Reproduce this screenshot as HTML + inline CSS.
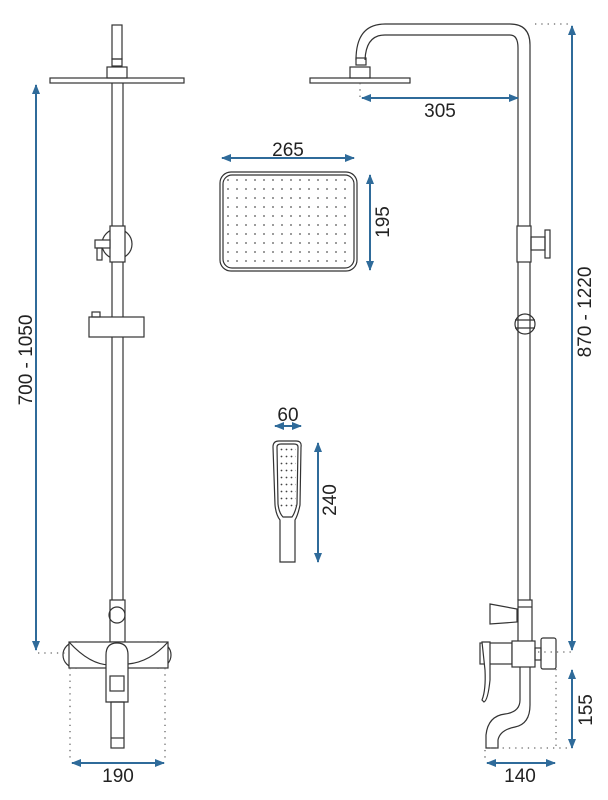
<!DOCTYPE html>
<html><head><style>
html,body{margin:0;padding:0;background:#fff;}
svg{display:block;}
text{font-family:"Liberation Sans",sans-serif;font-size:19px;fill:#222;}
</style></head><body>
<svg width="608" height="800" viewBox="0 0 608 800" xmlns="http://www.w3.org/2000/svg">
<defs>
<marker id="a" markerWidth="10" markerHeight="8" refX="9" refY="4" orient="auto-start-reverse" markerUnits="userSpaceOnUse">
<path d="M0,0 L10,4 L0,8 Z" fill="#2f6b9a"/></marker>
<pattern id="dots" x="226" y="178" width="9" height="9" patternUnits="userSpaceOnUse">
<circle cx="2" cy="2" r="0.9" fill="#555"/></pattern>
<pattern id="dots2" x="280" y="448" width="5" height="7" patternUnits="userSpaceOnUse">
<circle cx="1.5" cy="1.5" r="0.9" fill="#444"/></pattern>
</defs>
<g fill="none" stroke="#333" stroke-width="1.2">
<!-- LEFT UNIT -->
<rect x="112" y="25" width="10" height="34"/>
<rect x="112" y="59" width="10" height="7"/>
<rect x="107" y="67" width="20" height="11"/>
<rect x="50" y="78" width="134" height="5"/>
<line x1="112" y1="83" x2="112" y2="600"/><line x1="123" y1="83" x2="123" y2="600"/>
<circle cx="117" cy="244" r="15"/>
<rect x="110" y="226" width="15" height="36" fill="#fff"/>
<rect x="95" y="240" width="15" height="8" fill="#fff"/>
<rect x="97" y="248" width="5" height="12"/>
<rect x="89" y="317" width="55" height="20" fill="#fff"/>
<rect x="92" y="312" width="8" height="5"/>
<rect x="110" y="600" width="15" height="42" fill="#fff"/>
<circle cx="117" cy="615" r="8"/>
<circle cx="76" cy="655" r="13"/><circle cx="158" cy="655" r="13"/>
<rect x="69" y="642" width="99" height="26" fill="#fff"/>
<path d="M69,642 Q90,665 110,665 M168,642 Q150,662 128,664"/>
<path d="M106,702 V655 Q106,643 117,643 Q128,643 128,655 V702 Z" fill="#fff"/>
<rect x="110" y="676" width="14" height="15"/>
<rect x="111" y="702" width="13" height="46"/>
<line x1="111" y1="738" x2="124" y2="738"/>
<!-- RIGHT UNIT -->
<path d="M356,60 Q356,24 385,24 H510 Q530,24 530,45 V600"/>
<path d="M365,60 Q366,35 385,35 H510 Q518,35 518,48 V600"/>
<rect x="356" y="58" width="10" height="7"/>
<rect x="350" y="67" width="20" height="11"/>
<rect x="310" y="78" width="100" height="5"/>
<rect x="517" y="226" width="14" height="36" fill="#fff"/>
<rect x="531" y="237" width="14" height="13"/>
<rect x="545" y="230" width="5" height="28"/>
<circle cx="525" cy="324" r="10"/>
<line x1="515" y1="320" x2="535" y2="320"/><line x1="515" y1="328" x2="535" y2="328"/>
<rect x="518" y="600" width="14" height="42" fill="#fff"/>
<line x1="518" y1="607" x2="532" y2="607"/>
<path d="M490,604 L517,609 V622 L490,624 Z"/>
<path d="M520,667 V700 Q520,712 505,714 Q488,716 486,735 V748 H498 V740 Q500,730 515,727 Q530,724 530,705 V667"/>
<rect x="480" y="643" width="32" height="21" fill="#fff"/>
<rect x="512" y="641" width="23" height="26" fill="#fff"/>
<rect x="535" y="648" width="6" height="12"/>
<rect x="541" y="638" width="15" height="31" rx="2"/>
<path d="M482,642 H490 V680 Q488,700 484,702 L482,700 Q486,690 485,670 Z" fill="#fff"/>
<!-- HEAD PLATE TOP -->
<rect x="220" y="172" width="137" height="99" rx="11"/>
<rect x="223" y="175" width="131" height="93" rx="9"/>
<rect x="226" y="178" width="125" height="87" fill="url(#dots)" stroke="none"/>
<!-- HAND SHOWER -->
<path d="M273,447 Q273,441 279,441 H296 Q302,441 301,447 L300,505 Q298,515 295,520 V562 H280 V520 Q276,515 275,505 Z"/>
<path d="M277,447 Q277,444 281,444 H294 Q298,444 298,447 L297,504 Q295,513 292,517 H283 Q279,513 278,504 Z"/>
<rect x="280" y="448" width="16" height="62" fill="url(#dots2)" stroke="none"/>
</g>
<!-- dotted guides -->
<g stroke="#666" stroke-width="1.3" stroke-dasharray="1.3 5" fill="none">
<line x1="38" y1="653" x2="66" y2="653"/>
<line x1="70" y1="668" x2="70" y2="760"/><line x1="165" y1="668" x2="165" y2="760"/>
<line x1="535" y1="24" x2="572" y2="24"/>
<line x1="360" y1="83" x2="360" y2="98"/>
<line x1="556" y1="669" x2="556" y2="748"/>
<line x1="490" y1="748" x2="570" y2="748"/>
<line x1="485" y1="750" x2="485" y2="762"/>
<line x1="538" y1="652" x2="572" y2="652"/>
</g>
<!-- dimensions -->
<g stroke="#2f6b9a" stroke-width="2" fill="none">
<line x1="36" y1="85" x2="36" y2="650" marker-start="url(#a)" marker-end="url(#a)"/>
<line x1="72" y1="763" x2="164" y2="763" marker-start="url(#a)" marker-end="url(#a)"/>
<line x1="362" y1="98" x2="518" y2="98" marker-start="url(#a)" marker-end="url(#a)"/>
<line x1="572" y1="26" x2="572" y2="650" marker-start="url(#a)" marker-end="url(#a)"/>
<line x1="222" y1="158" x2="354" y2="158" marker-start="url(#a)" marker-end="url(#a)"/>
<line x1="370" y1="175" x2="370" y2="270" marker-start="url(#a)" marker-end="url(#a)"/>
<line x1="275" y1="426" x2="301" y2="426" marker-start="url(#a)" marker-end="url(#a)"/>
<line x1="318" y1="443" x2="318" y2="562" marker-start="url(#a)" marker-end="url(#a)"/>
<line x1="572" y1="670" x2="572" y2="748" marker-start="url(#a)" marker-end="url(#a)"/>
<line x1="487" y1="763" x2="555" y2="763" marker-start="url(#a)" marker-end="url(#a)"/>
</g>
<g text-anchor="middle">
<text x="118" y="782">190</text>
<text x="520" y="782">140</text>
<text x="440" y="117">305</text>
<text x="288" y="156">265</text>
<text x="288" y="421">60</text>
<text transform="translate(389,222) rotate(-90)">195</text>
<text transform="translate(336,500) rotate(-90)">240</text>
<text transform="translate(592,710) rotate(-90)">155</text>
<text transform="translate(591,312) rotate(-90)">870 - 1220</text>
<text transform="translate(32,360) rotate(-90)">700 - 1050</text>
</g>
</svg>
</body></html>
